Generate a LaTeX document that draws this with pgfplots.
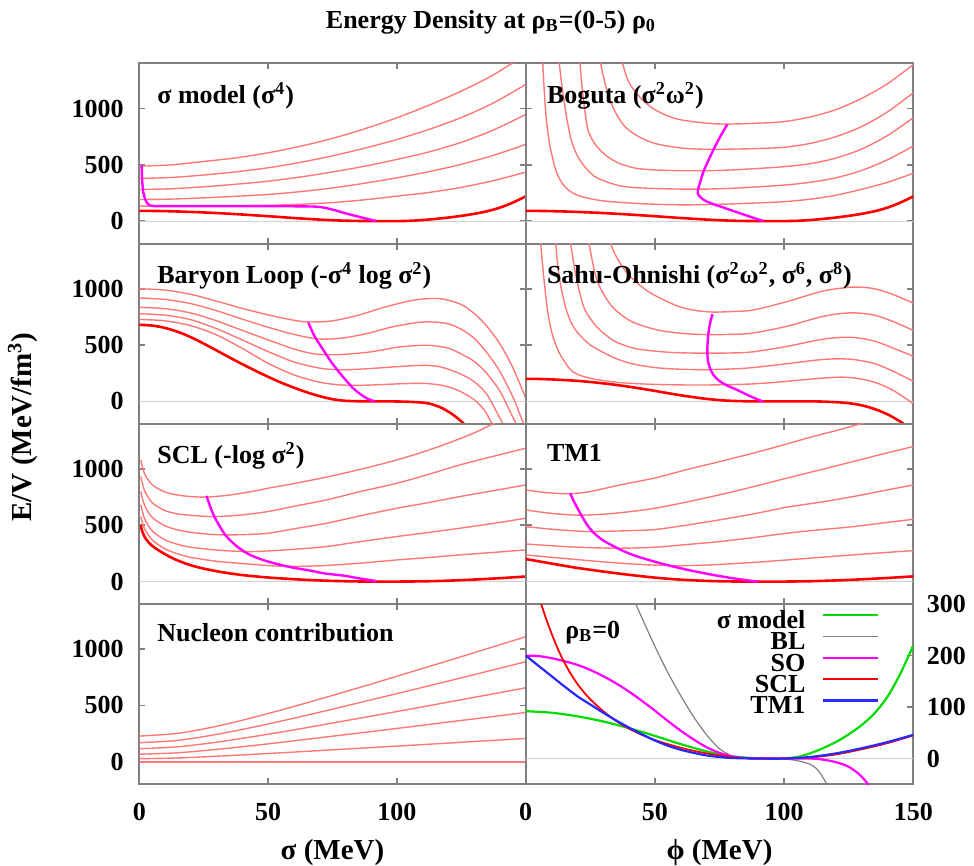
\documentclass[border=0pt]{standalone}
\usepackage{fontspec}
\setmainfont{Liberation Serif}
\usepackage{pgfplots}
\pgfplotsset{compat=1.18}
\definecolor{thinred}{RGB}{255,120,120}
\definecolor{mag}{RGB}{255,0,255}
\definecolor{grn}{RGB}{0,220,0}
\definecolor{blu}{RGB}{40,40,255}
\definecolor{brd}{RGB}{128,128,128}
\newcommand{\lbl}{\fontsize{13}{14}\selectfont\bfseries}
\newcommand{\axl}{\fontsize{14.5}{16}\selectfont\bfseries}
\tikzset{
  lab/.style={anchor=base west, font=\lbl, inner sep=0pt},
  rthick/.style={red, line width=1.3pt, smooth},
  rthin/.style={thinred, line width=0.7pt, smooth},
  magl/.style={mag, line width=1.2pt},
  zline/.style={gray!35, line width=0.5pt},
}
\pgfplotsset{
  panel/.style={scale only axis, anchor=south west,
    xmin=0, xmax=150, ymin=-200, ymax=1400,
    axis line style={brd, line width=1pt},
    tick style={brd, line width=0.8pt}, major tick length=3pt, tick align=inside,
    xtick={0,50,100,150}, ytick={0,500,1000},
    xticklabels={}, yticklabels={},
    ticklabel style={font=\lbl},
    xticklabel style={yshift=-6pt}},
  leftcol/.style={yticklabels={0,500,1000}, yticklabel style={xshift=-4.3pt}},
}
\pgfplotstableread{
x y
0 92
10 89
20 82
30 72
40 59
50 44
60 28
70 14
80 4
90 0.5
95 0
100 0.5
105 3
110 10
115 20
120 32
125 47
130 65
135 88
140 120
145 165
150 220
}\sigvac
\pgfplotstableread{
x y
0 680
5 673
10 652
15 617
20 570
25 513
30 452
35 390
40 330
45 273
50 218
55 167
60 122
65 81
70 46
75 19
80 5
85 1
90 0
95 0
100 -1
105 -4
110 -11
113 -22
116 -45
118 -65
120 -92
122 -122
125 -178
127 -225
}\blvac
\pgfplotstableread{
x y
0 200
5 199
10 195
15 189
20 182
25 172
30 160
35 146
40 130
45 112
50 93
55 73
60 54
65 37
70 22
75 11
80 4
85 1
90 0
100 0
110 0
115 -2
120 -7
125 -16
130 -35
135 -68
140 -115
145 -180
148 -230
}\sovac
\pgfplotstableread{
x y
0.6 500
1 455
2 400
3 365
4 338
5 318
6 300
8 270
10 243
12 218
14 196
16 177
18 160
20 145
22 132
25 115
30 92
35 73
40 58
45 46
50 36
55 28
60 21
65 15
70 10
75 6
80 3
85 1
90 0
100 0
110 2
120 8
130 18
140 30
150 45
}\sclvac
\pgfplotstableread{
x y
0 200
5 180
10 160
15 140
20 121
25 105
30 89
35 74
40 60
45 47
50 35
55 25
60 17
65 11
70 6
75 3
80 1
90 0
100 0
110 3
120 10
130 20
140 32
150 46
}\tmvac
\begin{document}
\begin{tikzpicture}
\useasboundingbox (0,0) rectangle (487pt,433pt);
\node[font=\lbl] at (245.5pt,422pt) {Energy Density at ρ\textsubscript{B}=(0-5) ρ\textsubscript{0}};
\node[font=\axl, rotate=90] at (11.5pt,219.5pt) {E/V (MeV/fm\textsuperscript{3})};
\node[font=\axl] at (166.25pt,6.5pt) {σ (MeV)};
\node[font=\axl] at (359.75pt,6.5pt) {ϕ (MeV)};

% ---------- Panel 1: sigma model
\begin{axis}[panel, leftcol, at={(69.65pt,311.15pt)}, width=193.2pt, height=90.1pt]
\addplot[zline, forget plot] coordinates {(0,0) (150,0)};
\addplot[rthin] coordinates {(0,488)(12.5,500)(25,530)(37.5,562)(50,607)(62.5,665)(75,735)(87.5,820)(100,918)(112.5,1030)(125,1155)(137.5,1300)(150,1480)};
\addplot[rthin] coordinates {(0,379)(12.5,388)(25,410)(37.5,438)(50,474)(62.5,522)(75,580)(87.5,648)(100,725)(112.5,815)(125,920)(137.5,1050)(150,1214)};
\addplot[rthin] coordinates {(0,281)(12.5,288)(25,305)(37.5,328)(50,355)(62.5,392)(75,437)(87.5,488)(100,548)(112.5,615)(125,700)(137.5,810)(150,947)};
\addplot[rthin] coordinates {(0,192)(12.5,196)(25,207)(37.5,221)(50,237)(62.5,262)(75,295)(87.5,337)(100,385)(112.5,440)(125,505)(137.5,585)(150,681)};
\addplot[rthin] coordinates {(0,133)(12.5,133)(25,134)(37.5,136)(50,140)(62.5,150)(75,165)(87.5,190)(100,222)(112.5,255)(125,300)(137.5,360)(150,435)};
\addplot[rthick] table {\sigvac};
\addplot[magl] coordinates {(0.9,494)(1.0,420)(1.2,330)(1.5,260)(2.2,200)(3,160)(4.1,140)(6,134)(10,133)(30,133)(50,133)(60,132)(67.5,130)(70.5,125)(72.7,116)(76,97)(79.2,75)(82.5,55)(85.6,37)(88.5,20)(90.8,8)(92,2)};
\node[lab] at (rel axis cs:0.0458,0.779) {σ model (σ\textsuperscript{4})};
\end{axis}

% ---------- Panel 2: Boguta
\begin{axis}[panel, at={(262.85pt,311.15pt)}, width=193.8pt, height=90.1pt]
\addplot[zline, forget plot] coordinates {(0,0) (150,0)};
\addplot[rthin] coordinates {(36,1550)(37.5,1400)(40,1230)(45,1080)(50,990)(55,935)(60,900)(70,870)(78,862)(90,870)(100,884)(110,925)(120,990)(130,1090)(140,1220)(150,1391)};
\addplot[rthin] coordinates {(28,1550)(29,1400)(31,1200)(34,1000)(38,850)(43,760)(50,690)(60,650)(70,638)(80,640)(90,645)(100,656)(110,690)(120,750)(130,840)(140,970)(150,1140)};
\addplot[rthin] coordinates {(20.2,1550)(21,1400)(22,1150)(24,820)(27,680)(31,585)(36,515)(42.6,470)(50,455)(60,448)(70,448)(80,455)(90,468)(100,484)(110,510)(120,560)(130,640)(140,760)(150,918)};
\addplot[rthin] coordinates {(12.3,1550)(13,1400)(14,1200)(15,1050)(16,900)(18,690)(21,540)(25,430)(28,380)(35,322)(41,300)(50,290)(60,285)(70,285)(80,292)(90,305)(100,320)(110,345)(120,385)(130,450)(140,545)(150,667)};
\addplot[rthin] coordinates {(6.2,1550)(6.6,1400)(7.2,1150)(8,900)(9,720)(10,600)(12,430)(15,310)(20,230)(30,180)(45,155)(60,145)(75,150)(90,162)(100,173)(110,195)(120,230)(130,283)(140,345)(150,425)};
\addplot[rthick] table {\sigvac};
\addplot[magl, smooth] coordinates {(78,858)(75.5,760)(73,650)(70.8,545)(68.8,440)(67.3,330)(66.7,280)(66.6,245)(67.5,215)(69.4,182)(72.5,152)(76,125)(80.4,90)(85.5,50)(90.7,10)(92,2)};
\node[lab] at (rel axis cs:0.054,0.779) {Boguta (σ\textsuperscript{2}ω\textsuperscript{2})};
\end{axis}

% ---------- Panel 3: Baryon Loop
\begin{axis}[panel, leftcol, at={(69.65pt,221.05pt)}, width=193.2pt, height=90.1pt]
\addplot[zline, forget plot] coordinates {(0,0) (150,0)};
\addplot[rthin] coordinates {(0,1000)(10,988)(20,950)(30,890)(40,825)(50,768)(60,720)(66,705)(75,715)(85,765)(95,835)(105,892)(112,912)(118,908)(125,860)(130,780)(135,665)(140,510)(145,300)(150,30)};
\addplot[rthin] coordinates {(0,918)(10,905)(20,868)(30,805)(40,730)(50,658)(60,595)(69,555)(78,560)(88,600)(98,660)(108,700)(114,705)(120,688)(125,640)(130,560)(135,430)(140,265)(145,40)(148,-130)(150,-250)};
\addplot[rthin] coordinates {(0,835)(10,823)(20,785)(30,715)(40,630)(50,546)(60,465)(67,425)(73,414)(80,418)(90,440)(100,480)(108,496)(113,497)(120,472)(125,420)(130,355)(135,245)(140,90)(145,-140)(147,-230)};
\addplot[rthin] coordinates {(0,778)(10,765)(20,725)(30,645)(40,545)(50,442)(60,350)(70,295)(77,281)(85,285)(95,300)(105,315)(111,320)(116,310)(120,285)(125,240)(130,175)(135,60)(140,-150)(142,-230)};
\addplot[rthin] coordinates {(0,728)(10,715)(20,672)(30,590)(40,470)(50,338)(60,235)(70,170)(78,146)(85,142)(92,147)(100,155)(107,160)(112,158)(118,140)(124,95)(130,15)(134,-80)(137,-200)(139,-260)};
\addplot[rthick] table {\blvac};
\addplot[magl, smooth] coordinates {(65.6,700)(68,580)(71.4,457)(74.5,350)(77.9,250)(80.5,180)(83,117)(85.5,70)(88.2,28)(90.8,4)(91.5,0)};
\node[lab] at (rel axis cs:0.0458,0.78) {Baryon Loop (-σ\textsuperscript{4} log σ\textsuperscript{2})};
\end{axis}

% ---------- Panel 4: Sahu-Ohnishi
\begin{axis}[panel, at={(262.85pt,221.05pt)}, width=193.8pt, height=90.1pt]
\addplot[zline, forget plot] coordinates {(0,0) (150,0)};
\addplot[rthin] coordinates {(32,1550)(32.9,1400)(35.5,1267)(40,1119)(47.7,971)(58,853)(65,810)(72.3,793)(80,798)(88,811)(101,885)(114,974)(122,1005)(128,1015)(135,1000)(142,950)(150,873)};
\addplot[rthin] coordinates {(23.5,1550)(24.5,1400)(27,1120)(29.7,970)(34.2,823)(41.3,705)(51.6,631)(62,601)(70,593)(80,595)(88,607)(101,666)(114,749)(122,780)(128,785)(135,765)(142,710)(150,630)};
\addplot[rthin] coordinates {(16.5,1550)(17.4,1400)(19.4,1120)(22.6,830)(27,675)(31,590)(35,527)(42.6,468)(54,438)(62,430)(70,428)(80,430)(88,440)(101,488)(114,548)(122,568)(128,565)(135,535)(142,475)(150,400)};
\addplot[rthin] coordinates {(11,1550)(11.6,1400)(13,1100)(15.5,830)(18,680)(21,586)(25,500)(30,435)(35,380)(41,335)(50,300)(60,285)(70,282)(80,288)(88,300)(101,334)(114,370)(122,378)(128,368)(135,335)(142,270)(150,178)};
\addplot[rthin] coordinates {(5.5,1550)(5.8,1400)(7,1100)(8.5,800)(10,620)(12,480)(14,390)(17,290)(20,240)(26,200)(35,170)(45,155)(55,148)(65,145)(75,147)(88,155)(101,178)(114,205)(122,215)(128,205)(135,170)(142,100)(150,-20)};
\addplot[rthick] table {\sovac};
\addplot[magl, smooth] coordinates {(72.3,775)(71.4,700)(70.8,620)(70.4,520)(70.3,425)(70.6,350)(71.5,285)(72.8,230)(75,180)(78,140)(82,100)(86,55)(90.7,8)(92,0)};
\node[lab] at (rel axis cs:0.054,0.78) {Sahu-Ohnishi (σ\textsuperscript{2}ω\textsuperscript{2}, σ\textsuperscript{6}, σ\textsuperscript{8})};
\end{axis}

% ---------- Panel 5: SCL
\begin{axis}[panel, leftcol, at={(69.65pt,130.95pt)}, width=193.2pt, height=90.1pt]
\addplot[zline, forget plot] coordinates {(0,0) (150,0)};
\addplot[rthin] coordinates {(0.6,1080)(2,960)(5,860)(10,795)(15,768)(20,755)(26,750)(35,768)(45,805)(50,829)(60,870)(70,915)(80,965)(90,1020)(100,1080)(110,1150)(120,1230)(130,1320)(140,1430)};
\addplot[rthin] coordinates {(0.6,932)(2,810)(5,700)(10,630)(15,600)(20,588)(25,580)(30,577)(40,592)(50,622)(60,668)(72.7,725)(85,795)(100,873)(112,950)(124.5,1036)(137,1110)(150,1184)};
\addplot[rthin] coordinates {(0.6,799)(2,680)(5,570)(10,495)(15,458)(20,438)(27,420)(34,414)(42,418)(50,429)(60,468)(72.7,518)(85,580)(100,651)(112,700)(124.5,755)(137,805)(150,858)};
\addplot[rthin] coordinates {(0.6,681)(2,560)(5,450)(10,370)(15,330)(20,305)(30,280)(41,266)(50,272)(62,290)(72.7,311)(85,352)(100,400)(112,435)(124.5,474)(137,515)(150,562)};
\addplot[rthin] coordinates {(0.6,577)(2,470)(5,370)(10,290)(15,245)(20,215)(30,180)(40,160)(50,142)(58,135)(70,140)(85,162)(100,192)(112,213)(124.5,237)(137,258)(150,281)};
\addplot[rthick] table {\sclvac};
\addplot[magl, smooth] coordinates {(26.1,760)(27,700)(28,636)(29.5,560)(31.3,488)(33.5,410)(36.5,340)(39.5,285)(43,237)(48,192)(53.3,157)(60,122)(66.2,98)(72,72)(79.2,53)(85,30)(90.8,9)(92,2)};
\node[lab] at (rel axis cs:0.0458,0.781) {SCL (-log σ\textsuperscript{2})};
\end{axis}

% ---------- Panel 6: TM1
\begin{axis}[panel, at={(262.85pt,130.95pt)}, width=193.8pt, height=90.1pt]
\addplot[zline, forget plot] coordinates {(0,0) (150,0)};
\addplot[rthin] coordinates {(0,814)(8,790)(17,780)(25,800)(36.5,858)(50,920)(62,992)(75,1065)(88,1140)(100,1215)(110,1280)(120,1340)(130,1403)(140,1470)};
\addplot[rthin] coordinates {(0,636)(10,605)(20,590)(30,598)(40,620)(50,651)(62,705)(75,770)(88,842)(101,918)(114,992)(126.8,1066)(138,1132)(150,1199)};
\addplot[rthin] coordinates {(0,488)(10,465)(20,448)(25,444)(30,446)(40,452)(50,462)(62,500)(75,548)(88,600)(101,660)(114,705)(126.8,755)(138,805)(150,858)};
\addplot[rthin] coordinates {(0,334)(10,318)(20,305)(30,298)(37,296)(50,305)(62,328)(75,355)(88,390)(101,429)(114,460)(126.8,488)(138,520)(150,553)};
\addplot[rthin] coordinates {(0,237)(10,215)(20,195)(30,175)(40,158)(50,146)(56,142)(65,143)(75,152)(88,170)(101,192)(114,215)(126.8,237)(138,256)(150,275)};
\addplot[rthick] table {\tmvac};
\addplot[magl, smooth] coordinates {(17.2,784)(18.5,720)(19.7,666)(21,610)(23.6,510)(26,440)(30,365)(36.5,285)(42,232)(49.4,180)(55,145)(62.3,106)(70,70)(75.2,48)(80,30)(86.8,8)(90,0)};
\node[lab] at (rel axis cs:0.054,0.79) {TM1};
\end{axis}

% ---------- Panel 7: Nucleon contribution
\begin{axis}[panel, leftcol, at={(69.65pt,40.85pt)}, width=193.2pt, height=90.1pt, xticklabels={0,50,100,}]
\addplot[rthin] coordinates {(0,27)(15,34)(30,49)(45,67)(60,86)(75,106)(90,126)(105,146)(120,166)(135,187)(150,207)};
\addplot[rthin] coordinates {(0,67)(15,80)(30,110)(45,146)(60,186)(75,227)(90,268)(105,310)(120,353)(135,395)(150,438)};
\addplot[rthin] coordinates {(0,116)(15,133)(30,174)(45,226)(60,283)(75,344)(90,405)(105,467)(120,530)(135,593)(150,657)};
\addplot[rthin] coordinates {(0,169)(15,190)(30,243)(45,311)(60,387)(75,467)(90,550)(105,633)(120,717)(135,802)(150,888)};
\addplot[rthin] coordinates {(0,228)(15,253)(30,315)(45,398)(60,491)(75,589)(90,690)(105,794)(120,898)(135,1004)(150,1110)};
\addplot[color=thinred, line width=0.8pt] coordinates {(0,0)(50,0)(100,0)(150,0)};
\node[lab] at (rel axis cs:0.0458,0.791) {Nucleon contribution};
\end{axis}

% ---------- Panel 8: rho_B = 0
\begin{axis}[panel, at={(262.85pt,40.85pt)}, width=193.8pt, height=90.1pt,
  xticklabels={0,50,100,150},
  ymin=-50, ymax=300, ytick={0,100,200,300}, yticklabels={0,100,200,300},
  ytick pos=right, yticklabel pos=right, yticklabel style={anchor=west, xshift=3.3pt},
  legend style={at={(0.914,0.962)}, anchor=north east, draw=none, fill=none, inner sep=0pt,
    font=\lbl, legend cell align=right, column sep=8.5pt,
    nodes={inner sep=0pt, text height=8.6pt, text depth=1.4pt}, row sep=0.65pt},
  legend plot pos=right,
  legend image code/.code={\draw[#1] (0pt,3pt) -- (27.5pt,3pt);}]
\addplot[zline, forget plot] coordinates {(0,0) (150,0)};
\addplot[grn, line width=1.1pt, smooth] table {\sigvac};
\addlegendentry{σ model}
\addplot[brd, line width=0.6pt, smooth] table {\blvac};
\addlegendentry{BL}
\addplot[mag, line width=1.1pt, smooth] table {\sovac};
\addlegendentry{SO}
\addplot[red, line width=0.9pt, smooth] table {\sclvac};
\addlegendentry{SCL}
\addplot[blu, line width=1.1pt, smooth] table {\tmvac};
\addlegendentry{TM1}
\node[lab] at (rel axis cs:0.101,0.81) {ρ\textsubscript{B}=0};
\end{axis}
\end{tikzpicture}
\end{document}
